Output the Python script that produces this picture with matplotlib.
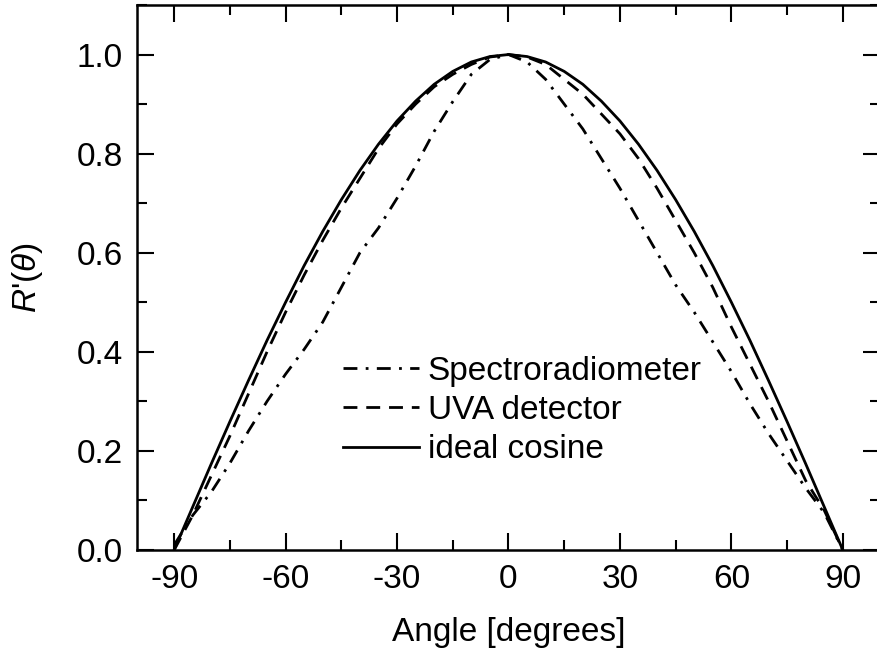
import matplotlib
matplotlib.use("Agg")
import matplotlib.pyplot as plt
from matplotlib.ticker import MultipleLocator

plt.rcParams["font.family"] = ["Liberation Sans", "DejaVu Sans"]
plt.rcParams["mathtext.fontset"] = "custom"
plt.rcParams["mathtext.it"] = "Liberation Sans:italic"
plt.rcParams["mathtext.rm"] = "Liberation Sans"
plt.rcParams["axes.unicode_minus"] = False

# angles [deg]
angle = [-90, -85, -80, -75, -70, -65, -60, -55, -50, -45, -40, -35, -30,
         -25, -20, -15, -10, -5, 0, 5, 10, 15, 20, 25, 30, 35, 40, 45, 50,
         55, 60, 65, 70, 75, 80, 85, 90]

# spectroradiometer
spectro = [0.01, 0.07, 0.117, 0.175, 0.24, 0.30, 0.355, 0.405, 0.46, 0.53,
           0.60, 0.65, 0.71, 0.775, 0.845, 0.905, 0.96, 0.99, 1.0, 0.985,
           0.95, 0.90, 0.85, 0.79, 0.73, 0.665, 0.60, 0.535, 0.48, 0.42,
           0.36, 0.295, 0.235, 0.18, 0.125, 0.075, 0.0]

# UVA detector
uva = [0.0, 0.07, 0.15, 0.23, 0.315, 0.40, 0.48, 0.555, 0.625, 0.69, 0.75,
       0.81, 0.86, 0.90, 0.935, 0.96, 0.98, 0.995, 1.0, 0.995, 0.98, 0.95,
       0.92, 0.88, 0.84, 0.79, 0.73, 0.665, 0.60, 0.53, 0.45, 0.375, 0.30,
       0.22, 0.14, 0.08, 0.0]

# ideal cosine
ideal = [0.0, 0.087, 0.174, 0.259, 0.342, 0.423, 0.5, 0.574, 0.643, 0.707,
         0.766, 0.819, 0.866, 0.906, 0.940, 0.966, 0.985, 0.996, 1.0, 0.996,
         0.985, 0.966, 0.940, 0.906, 0.866, 0.819, 0.766, 0.707, 0.643,
         0.574, 0.5, 0.423, 0.342, 0.259, 0.174, 0.087, 0.0]

fig = plt.figure(figsize=(8.77, 6.59), dpi=100)
ax = fig.add_axes([0.1562, 0.1654, 0.8472, 0.827])

lw = 2.0
ax.plot(angle, spectro, color="k", lw=lw, dashes=(5, 3, 1, 3),
        label="Spectroradiometer")
ax.plot(angle, uva, color="k", lw=lw, dashes=(5, 3.2), label="UVA detector")
ax.plot(angle, ideal, color="k", lw=lw, label="ideal cosine")

ax.set_xlim(-100, 100)
ax.set_ylim(0, 1.1)
ax.xaxis.set_major_locator(MultipleLocator(30))
ax.xaxis.set_minor_locator(MultipleLocator(15))
ax.yaxis.set_minor_locator(MultipleLocator(0.1))
ax.set_yticks([0, 0.2, 0.4, 0.6, 0.8, 1.0])
ax.set_yticklabels(["0.0", "0.2", "0.4", "0.6", "0.8", "1.0"])
ax.tick_params(which="both", direction="in", top=True, right=True,
               labelsize=24, width=1.5)
ax.tick_params(which="major", length=12, pad=10)
ax.tick_params(which="minor", length=7)
for s in ax.spines.values():
    s.set_linewidth(1.8)

ax.set_xlabel("Angle [degrees]", fontsize=24, labelpad=16)
ax.set_ylabel(r"$R$'($\theta$)", fontsize=24, labelpad=23)

ax.legend(loc="upper left", bbox_to_anchor=(0.259, 0.381), frameon=False,
          fontsize=24, handlelength=2.3, handletextpad=0.25, labelspacing=0.25,
          borderaxespad=0)

fig.savefig("out.png", dpi=100)
